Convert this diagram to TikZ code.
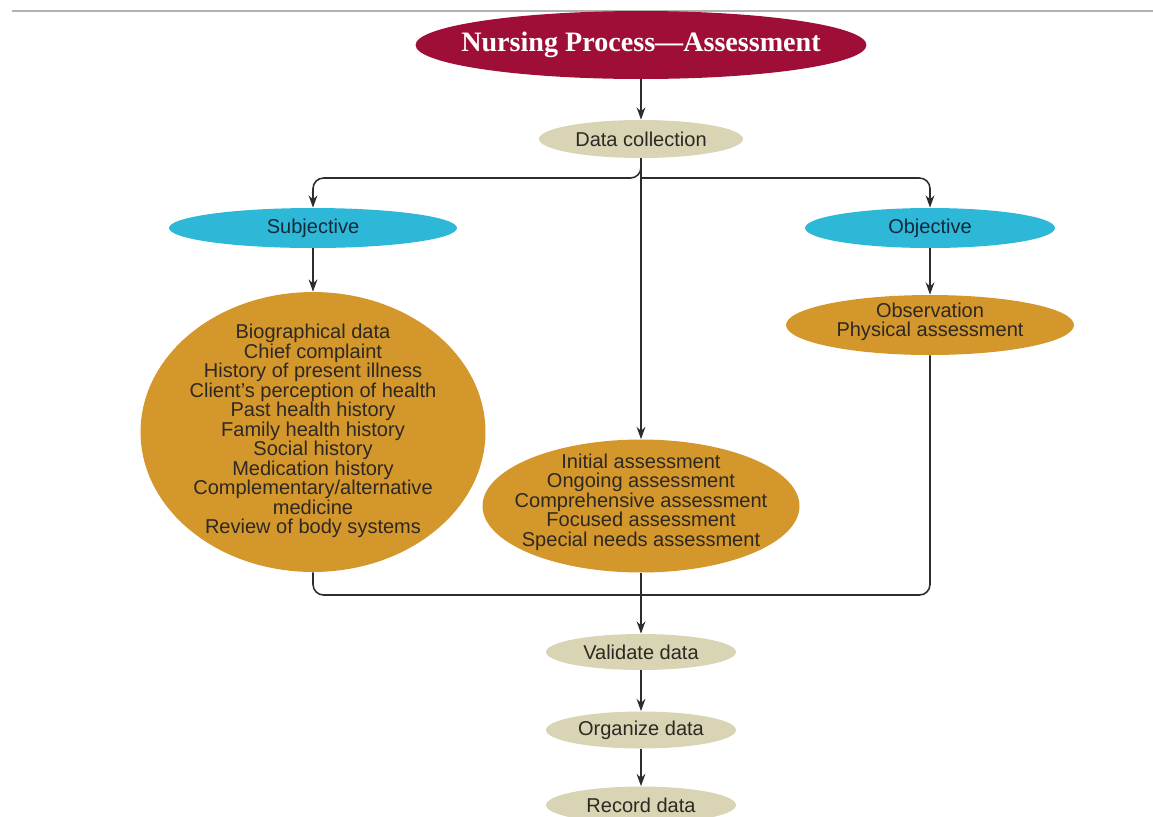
\documentclass[tikz,border=0pt]{standalone}
\usepackage{fontspec}
\setmainfont{Liberation Sans}
\newfontfamily\titlefont{Liberation Serif}
\usetikzlibrary{shapes.geometric, arrows.meta}
\usepackage{xcolor}

\definecolor{maroon}{RGB}{158,14,54}
\definecolor{beige}{RGB}{216,212,180}
\definecolor{skyblue}{RGB}{44,184,214}
\definecolor{gold}{RGB}{212,151,44}
\definecolor{ink}{RGB}{45,40,35}

\tikzset{
  oval/.style={ellipse, inner sep=0pt, text=ink, font=\fontsize{11.4}{11.1}\selectfont},
  step oval/.style={oval, fill=beige},
  side oval/.style={oval, fill=skyblue, text={rgb,255:red,20;green,40;blue,60}},
  blob/.style={ellipse, inner sep=0pt, fill=gold},
  blob text/.style={align=center, inner sep=0pt, text=ink, font=\fontsize{11.4}{11.1}\selectfont},
  link/.style={->, line width=0.9pt, draw={rgb,255:red,45;green,45;blue,45}}
}

\begin{document}
\begin{tikzpicture}[x=0.02cm, y=-0.02cm, >={Stealth[length=7pt,width=5pt]}]
		\useasboundingbox (0,0) rectangle (1153,816);
		\draw [gray!60, line width=1pt] (12,11) -- (1153,11);
		% title and first step
		\node[ellipse, fill=maroon, text=white, minimum width=9.02cm, minimum height=1.36cm, inner sep=0pt] (title) at (641,45) {};
		\node[inner sep=0pt, text=white, font=\titlefont\bfseries\fontsize{16}{16}\selectfont] (titletxt) at (title) {Nursing Process\textemdash Assessment};
		\node[step oval, minimum width=4.08cm, minimum height=0.76cm] (collect) at (641,139) {Data collection};
		% two kinds of data
		\node[side oval, minimum width=5.76cm, minimum height=0.8cm] (subj) at (313,228) {Subjective};
		\node[side oval, minimum width=5.0cm, minimum height=0.8cm] (obj) at (930,228) {Objective};
		\node[blob, minimum width=6.9cm, minimum height=5.6cm] (bio) at (313,432) {};
		\node[blob text] (biotxt) at (313,431) {Biographical data\\Chief complaint\\History of present illness\\Client's perception of health\\Past health history\\Family health history\\Social history\\Medication history\\Complementary/alternative\\medicine\\Review of body systems};
		\node[blob, minimum width=5.76cm, minimum height=1.2cm] (obs) at (930,325) {};
		\node[blob text] (obstxt) at (930,322) {Observation\\Physical assessment};
		\node[blob, minimum width=6.34cm, minimum height=2.66cm] (types) at (641,506) {};
		\node[blob text] (typestxt) at (641,502) {Initial assessment\\Ongoing assessment\\Comprehensive assessment\\Focused assessment\\Special needs assessment};
		% last steps
		\node[step oval, minimum width=3.8cm, minimum height=0.72cm] (valid) at (641,652) {Validate data};
		\node[step oval, minimum width=3.8cm, minimum height=0.74cm] (organize) at (641,730) {Organize data};
		\node[step oval, minimum width=3.8cm, minimum height=0.74cm] (record) at (641,805) {Record data};
		\coordinate (split) at (641,178);
		\coordinate (merge) at (641,595);
		% connectors
		\draw [link] (title) -- (collect);
		\draw [link, rounded corners=6pt] (collect.south) -- (split) -| (subj.north);
		\draw [link, rounded corners=6pt] (split) -| (obj.north);
		\draw [link] (collect) -- (types);
		\draw [link] (subj) -- (bio);
		\draw [link] (obj) -- (obs);
		\draw [link, -, rounded corners=6pt] (bio.south) |- (merge) -| (obs.south);
		\draw [link] (types) -- (valid);
		\draw [link] (valid) -- (organize);
		\draw [link] (organize) -- (record);
\end{tikzpicture}
\end{document}
